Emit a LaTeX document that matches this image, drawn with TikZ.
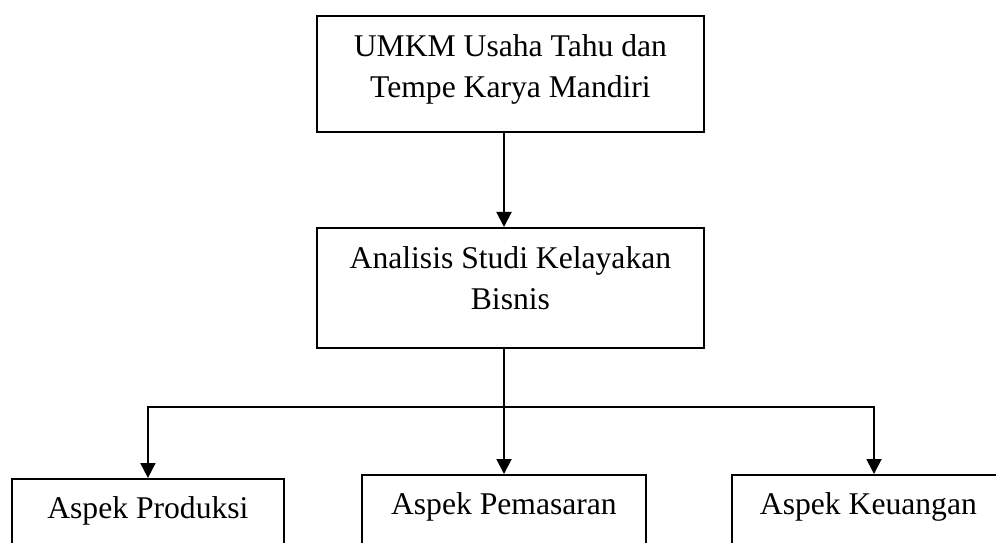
\documentclass[tikz,border=0pt]{standalone}
\usepackage{fontspec}
\setmainfont{Liberation Serif}
\usetikzlibrary{arrows.meta}

\begin{document}
\begin{tikzpicture}[x=0.02cm,y=-0.02cm,>={Triangle[width=0.3cm,length=0.3cm]},
  kotak/.style={draw,line width=1.1pt,anchor=north west,align=center,inner ysep=0.37cm,
    font=\fontsize{18}{23.6}\selectfont},
  kotakbawah/.style={kotak,text height=0.43cm,text depth=3cm},
  panah/.style={->,line width=1.1pt}]
\path[use as bounding box,clip] (0,0) rectangle (996,543);
\node[kotak,minimum width=7.74cm,text height=1.27cm,text depth=0.31cm] (umkm) at (316,15) {UMKM Usaha Tahu dan\\Tempe Karya Mandiri};
\node[kotak,minimum width=7.74cm,text height=1.27cm,text depth=0.39cm] (analisis) at (316,227) {Analisis Studi Kelayakan\\Bisnis};
\node[kotakbawah,minimum width=5.44cm] (produksi) at (11,478) {Aspek Produksi};
\node[kotakbawah,minimum width=5.68cm] (pemasaran) at (361,474) {Aspek Pemasaran};
\node[kotakbawah,minimum width=5.46cm] (keuangan) at (731,474) {Aspek Keuangan};
\coordinate (jalur) at (504,407); \coordinate (kanan) at (874,407);
\draw[panah] (umkm.south -| jalur) -- (analisis.north -| jalur);
\draw[panah] (analisis.south -| jalur) -- (jalur) -| (produksi.north);
\draw[panah] (jalur) -- (pemasaran.north -| jalur);
\draw[panah] (jalur) -| (keuangan.north -| kanan);
\end{tikzpicture}
\end{document}
